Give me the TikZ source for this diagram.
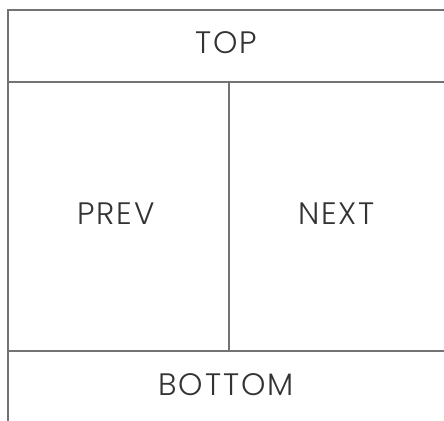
\documentclass[tikz,border=0pt]{standalone}
\usepackage{fontspec}
\setmainfont{Poppins}[UprightFont=* Light, LetterSpace=6]
\usepackage{tikz}
\usetikzlibrary{positioning}

\begin{document}
\begin{tikzpicture}[x=1pt, y=-1pt,
    frame/.style={draw=black!55, line width=1.1pt},
    lbl/.style={font=\fontsize{31}{33}\selectfont, text=black!80, inner sep=0pt}]
    \useasboundingbox (0,0) rectangle (444,420);
    \clip (0,0) rectangle (444,420);
    % outer frame, open to the right and below
    \draw[frame] (460,10) -- (8,10) -- (8,440);
    \draw[frame] (8,82) -- (460,82);
    \draw[frame] (8,351) -- (460,351);
    \draw[frame] (229,82) -- (229,351);
    \node[lbl] (top) at (226.5,43) {TOP};
    \node[lbl] (prev) at (116,213.5) {PREV};
    \node[lbl] (next) at (336.5,213.5) {NEXT};
    \node[lbl] (bottom) at (226,384.5) {BOTTOM};
\end{tikzpicture}
\end{document}
